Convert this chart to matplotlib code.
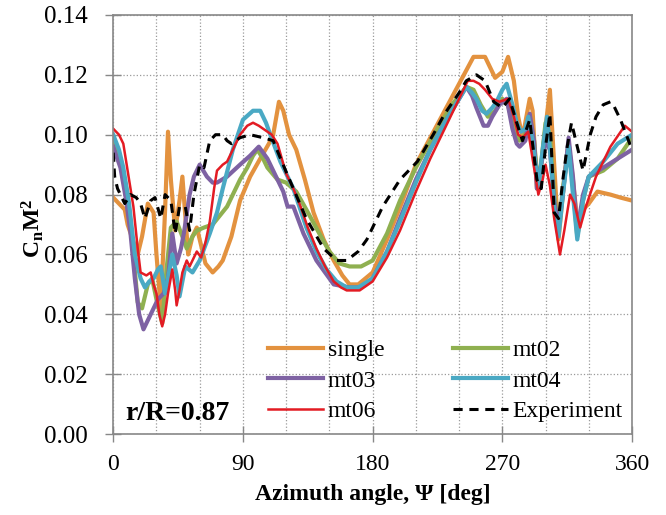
import matplotlib
matplotlib.use("Agg")
import matplotlib.pyplot as plt
from matplotlib.ticker import MultipleLocator

plt.rcParams['font.family'] = ['Liberation Serif', 'DejaVu Serif']
plt.rcParams['mathtext.fontset'] = 'custom'
plt.rcParams['mathtext.rm'] = 'Liberation Serif'
plt.rcParams['mathtext.bf'] = 'Liberation Serif:bold'

# azimuth angle [deg] and CnM^2
single_psi = [0, 8, 10, 17, 20, 24, 28, 30, 33, 36, 38, 40, 43, 46, 48, 52, 55, 58, 61, 64, 69, 73, 76, 82,
              88, 95, 102, 108, 111, 115, 118, 122, 127, 133, 139, 146, 153, 159, 164, 170, 180, 190, 200,
              210, 220, 230, 240, 250, 258, 265, 270, 274, 278, 281, 284, 289, 291, 294, 297, 303, 306, 309,
              313, 316, 319, 322, 326, 330, 336, 345, 352, 360]
single = [0.079, 0.075, 0.070, 0.060, 0.066, 0.077, 0.074, 0.060, 0.042, 0.075, 0.101, 0.085, 0.068, 0.078,
          0.086, 0.060, 0.066, 0.069, 0.063, 0.057, 0.054, 0.056, 0.058, 0.066, 0.078, 0.086, 0.092, 0.097,
          0.100, 0.111, 0.108, 0.100, 0.095, 0.085, 0.074, 0.065, 0.058, 0.053, 0.050, 0.050, 0.054, 0.065,
          0.077, 0.090, 0.099, 0.108, 0.117, 0.126, 0.126, 0.119, 0.121, 0.126, 0.118, 0.106, 0.099, 0.112,
          0.108, 0.082, 0.090, 0.115, 0.090, 0.065, 0.085, 0.097, 0.085, 0.071, 0.075, 0.077, 0.081, 0.080,
          0.079, 0.078]

mt02_psi = [0, 5, 10, 14, 17, 20, 24, 27, 30, 34, 37, 40, 44, 48, 51, 55, 58, 63, 69, 74, 79, 84, 88, 93,
            97, 100, 104, 107, 114, 120, 127, 134, 143, 150, 157, 164, 172, 180, 190, 199, 210, 218, 225,
            235, 245, 250, 255, 260, 265, 270, 274, 278, 282, 285, 289, 292, 295, 300, 303, 306, 309, 312,
            316, 319, 322, 326, 330, 335, 340, 350, 360]
mt02 = [0.098, 0.092, 0.080, 0.060, 0.044, 0.042, 0.050, 0.052, 0.045, 0.037, 0.055, 0.069, 0.071, 0.066,
        0.062, 0.066, 0.068, 0.069, 0.070, 0.073, 0.076, 0.081, 0.085, 0.089, 0.093, 0.095, 0.092, 0.089,
        0.085, 0.084, 0.081, 0.075, 0.067, 0.061, 0.057, 0.056, 0.056, 0.058, 0.067, 0.078, 0.089, 0.096,
        0.102, 0.110, 0.116, 0.115, 0.110, 0.106, 0.108, 0.112, 0.110, 0.102, 0.098, 0.099, 0.106, 0.098,
        0.082, 0.104, 0.100, 0.080, 0.068, 0.082, 0.097, 0.083, 0.066, 0.078, 0.086, 0.087, 0.088, 0.092,
        0.099]

mt03_psi = [0, 5, 9, 12, 15, 18, 21, 24, 27, 31, 35, 38, 41, 44, 47, 49, 53, 56, 60, 65, 69, 72, 79, 88,
            95, 101, 107, 111, 118, 121, 125, 132, 141, 153, 164, 172, 180, 190, 199, 210, 220, 230, 240,
            245, 249, 252, 257, 260, 263, 268, 273, 277, 280, 282, 286, 289, 292, 294, 297, 300, 303, 306,
            309, 312, 316, 319, 322, 326, 330, 340, 350, 360]
mt03 = [0.096, 0.089, 0.078, 0.067, 0.052, 0.040, 0.035, 0.038, 0.041, 0.045, 0.047, 0.052, 0.067, 0.057,
        0.062, 0.067, 0.080, 0.086, 0.090, 0.086, 0.084, 0.084, 0.086, 0.090, 0.093, 0.096, 0.092, 0.088,
        0.081, 0.076, 0.076, 0.067, 0.058, 0.050, 0.049, 0.049, 0.052, 0.061, 0.072, 0.085, 0.095, 0.104,
        0.112, 0.116, 0.113, 0.109, 0.103, 0.103, 0.106, 0.110, 0.112, 0.102, 0.097, 0.096, 0.098, 0.107,
        0.098, 0.082, 0.090, 0.098, 0.095, 0.078, 0.069, 0.080, 0.099, 0.086, 0.068, 0.080, 0.086, 0.089,
        0.092, 0.095]

mt04_psi = [0, 4, 7, 11, 15, 19, 22, 25, 28, 31, 33, 36, 38, 41, 44, 46, 50, 55, 60, 67, 72, 76, 83, 90,
            97, 102, 106, 109, 116, 125, 134, 141, 148, 155, 162, 170, 180, 190, 199, 210, 220, 230, 240,
            245, 249, 252, 256, 259, 263, 266, 270, 273, 277, 280, 283, 286, 288, 291, 295, 298, 301, 304,
            306, 309, 312, 316, 319, 322, 326, 330, 340, 350, 360]
mt04 = [0.100, 0.095, 0.089, 0.077, 0.060, 0.052, 0.049, 0.051, 0.052, 0.055, 0.056, 0.047, 0.052, 0.060,
        0.053, 0.046, 0.056, 0.054, 0.058, 0.067, 0.074, 0.082, 0.095, 0.105, 0.108, 0.108, 0.104, 0.100,
        0.091, 0.082, 0.069, 0.061, 0.055, 0.051, 0.049, 0.049, 0.052, 0.061, 0.071, 0.084, 0.095, 0.104,
        0.112, 0.116, 0.114, 0.112, 0.108, 0.107, 0.109, 0.111, 0.115, 0.117, 0.110, 0.104, 0.101, 0.102,
        0.106, 0.098, 0.082, 0.095, 0.106, 0.090, 0.075, 0.066, 0.080, 0.096, 0.080, 0.065, 0.078, 0.086,
        0.091, 0.097, 0.100]

mt06_psi = [0, 4, 7, 10, 14, 17, 19, 23, 26, 28, 30, 32, 34, 36, 38, 41, 43, 44, 46, 48, 51, 53, 56, 58,
            61, 64, 67, 70, 72, 76, 79, 84, 88, 93, 97, 101, 104, 110, 114, 120, 125, 130, 135, 141, 147,
            153, 158, 162, 171, 180, 190, 199, 210, 220, 230, 240, 246, 250, 254, 258, 263, 268, 274, 278,
            281, 284, 288, 291, 295, 298, 300, 303, 306, 310, 313, 317, 320, 324, 328, 335, 345, 355, 360]
mt06 = [0.102, 0.100, 0.097, 0.088, 0.076, 0.062, 0.054, 0.053, 0.054, 0.050, 0.047, 0.040, 0.036, 0.040,
        0.047, 0.055, 0.048, 0.043, 0.048, 0.054, 0.058, 0.056, 0.059, 0.061, 0.059, 0.064, 0.071, 0.082,
        0.088, 0.090, 0.091, 0.096, 0.100, 0.103, 0.104, 0.103, 0.102, 0.100, 0.097, 0.087, 0.082, 0.076,
        0.069, 0.062, 0.056, 0.051, 0.049, 0.048, 0.048, 0.051, 0.059, 0.068, 0.081, 0.092, 0.102, 0.112,
        0.118, 0.118, 0.117, 0.115, 0.112, 0.111, 0.112, 0.106, 0.100, 0.099, 0.101, 0.092, 0.080, 0.085,
        0.090, 0.083, 0.072, 0.060, 0.068, 0.080, 0.077, 0.069, 0.076, 0.086, 0.096, 0.103, 0.101]

exp_psi = [0, 1, 3, 5, 8, 12, 16, 19, 22, 26, 29, 33, 36, 40, 43, 46, 50, 53, 56, 60, 63, 67, 71, 76, 79,
           82, 88, 95, 104, 111, 117, 125, 134, 146, 155, 162, 170, 176, 187, 199, 211, 222, 230, 240, 245,
           252, 258, 264, 270, 275, 280, 284, 289, 294, 297, 300, 303, 306, 309, 312, 315, 318, 322, 326,
           331, 335, 340, 345, 347, 352, 356, 360]
exp = [0.094, 0.086, 0.082, 0.080, 0.077, 0.080, 0.079, 0.077, 0.072, 0.078, 0.079, 0.072, 0.080, 0.078,
       0.067, 0.076, 0.076, 0.068, 0.080, 0.090, 0.089, 0.098, 0.100, 0.100, 0.098, 0.097, 0.099, 0.100,
       0.099, 0.098, 0.091, 0.082, 0.072, 0.062, 0.058, 0.058, 0.061, 0.065, 0.076, 0.085, 0.091, 0.100,
       0.107, 0.114, 0.118, 0.120, 0.118, 0.111, 0.109, 0.112, 0.104, 0.098, 0.105, 0.085, 0.082, 0.096,
       0.107, 0.074, 0.072, 0.085, 0.096, 0.104, 0.096, 0.088, 0.100, 0.106, 0.110, 0.111, 0.110, 0.105,
       0.100, 0.095]

fig = plt.figure(figsize=(6.66, 5.15), dpi=100)
ax = fig.add_axes([0.170, 0.157, 0.779, 0.814])

l1, = ax.plot(single_psi, single, color='#E3923F', lw=3.0, label='single')
l2, = ax.plot(mt02_psi, mt02, color='#8FB050', lw=3.0, label='mt02')
l3, = ax.plot(mt03_psi, mt03, color='#7E62A3', lw=3.0, label='mt03')
l4, = ax.plot(mt04_psi, mt04, color='#4AA9C4', lw=3.0, label='mt04')
l5, = ax.plot(mt06_psi, mt06, color='#E31B23', lw=1.8, label='mt06')
l6, = ax.plot(exp_psi, exp, color='black', lw=2.2, ls=(0, (3, 2.2)), label='Experiment')

ax.set_xlim(0, 360)
ax.set_ylim(0, 0.14)
ax.xaxis.set_major_locator(MultipleLocator(90))
ax.xaxis.set_minor_locator(MultipleLocator(30))
ax.yaxis.set_major_locator(MultipleLocator(0.02))
ax.yaxis.set_major_formatter(plt.FormatStrFormatter('%.2f'))
ax.grid(True, which='both', ls=':', color='#9a9a9a', lw=0.9)
ax.tick_params(axis='both', which='major', direction='inout', length=11,
               color='#888888', width=1.0)
ax.tick_params(axis='x', which='minor', length=0)
ax.tick_params(axis='x', labelsize=17, pad=9)
ax.tick_params(axis='y', labelsize=18, pad=13)
for s in ax.spines.values():
    s.set_color('#888888')
    s.set_linewidth(1.2)

ax.set_xlabel('Azimuth angle, \u03a8 [deg]', fontsize=17, fontweight='bold')
ax.xaxis.set_label_coords(0.5, -0.118)
ax.set_ylabel(r'$\mathbf{C_n M^2}$', fontsize=17)
ax.yaxis.set_label_coords(-0.13, 0.49)

ax.text(0.023, 0.033, 'r/R=0.87', transform=ax.transAxes, fontsize=20, fontweight='bold')

ax.legend(handles=[l1, l3, l5, l2, l4, l6], ncol=2, loc='lower left', bbox_to_anchor=(0.271, -0.005),
          frameon=False, fontsize=17, handlelength=2.33, handletextpad=0.2, columnspacing=2.9,
          labelspacing=0.38, borderaxespad=0.2)

fig.savefig('out.png', dpi=100)
